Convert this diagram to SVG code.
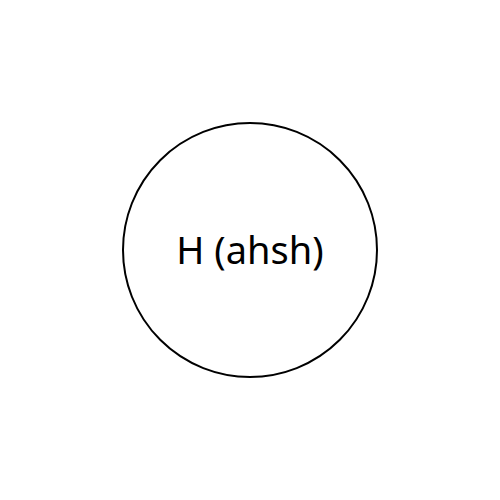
<svg xmlns="http://www.w3.org/2000/svg" width="500" height="500" viewBox="0 0 500 500">
<style>
.node circle{fill:#fff;stroke:#000;stroke-width:2}
.node text{font-family:"Noto Sans","DejaVu Sans",sans-serif;font-size:38px;fill:#000;text-anchor:middle}
</style>
<rect width="500" height="500" fill="#fff"/>
<g id="connectors"></g>
<g id="node-H" class="node">
<circle cx="250" cy="250" r="127"/>
<text x="250" y="264">H (ahsh)</text>
</g>
</svg>
